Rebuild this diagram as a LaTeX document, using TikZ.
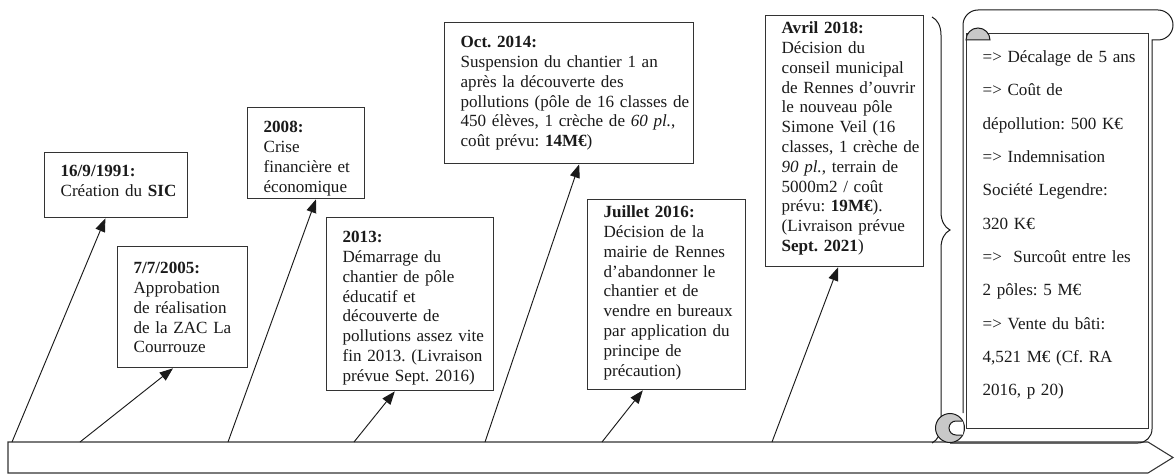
\documentclass[tikz,border=0pt]{standalone}
\usepackage{fontspec}
\setmainfont{Liberation Serif}
\usepackage{tikz}
\usetikzlibrary{arrows.meta,positioning,decorations.pathreplacing,calc}
\usepackage{xcolor}
\definecolor{ink}{HTML}{1A1A1A}
\definecolor{edge}{HTML}{333333}
\definecolor{roll}{HTML}{C8C8C8}
\newcommand\evfont{\fontsize{12.8pt}{14.85pt}\selectfont}
\newcommand\scrollfont{\fontsize{12.8pt}{25pt}\selectfont}
\frenchspacing
\tikzset{
  evbox/.style={draw=edge,line width=1pt,fill=white,anchor=north west,align=left,font=\evfont,text=ink,inner xsep=1.5pt,inner ysep=3pt,execute at begin node={\leftskip=10.5pt}},
  note/.style={evbox,font=\scrollfont},
  timeline/.style={draw=edge,line width=0.8pt,fill=white},
  scrollline/.style={draw=ink,line width=0.75pt},
  flow/.style={-{Triangle[length=10pt,width=7.5pt]},line width=0.7pt,draw=ink},
  bracket/.style={draw=ink,line width=0.75pt,decorate,decoration={brace,amplitude=13.5pt}}
}
\begin{document}
\begin{tikzpicture}[x=0.75pt,y=0.75pt]
\fill[white] (0,0) rectangle (1175,-474);
\useasboundingbox (0,0) rectangle (1175,-474);

\draw[timeline] (8,-442) -- (1148,-442) -- (1173,-457.5) -- (1148,-473) -- (8,-473) -- cycle;
\foreach \n/\x in {1/12,2/80,3/228,4/354,5/485,6/602,7/772}
  \coordinate (t\n) at (\x,-442);

\node[evbox,text width=104.25pt,text height=15pt,text depth=27.75pt] (d1991) at (44,-152) {\textbf{16/9/1991:}\\Création du \textbf{SIC}};
\node[evbox,text width=94.5pt,text height=17.25pt,text depth=67.5pt] (d2005) at (117,-246) {\textbf{7/7/2005:}\\Approbation\\de réalisation\\de la ZAC La\\Courrouze};
\node[evbox,text width=84.75pt,text height=15.75pt,text depth=46.5pt] (d2008) at (247,-107) {\textbf{2008:}\\Crise\\financière et\\économique};
\node[evbox,text width=122.25pt,text height=15.75pt,text depth=108pt] (d2013) at (326,-217) {\textbf{2013:}\\Démarrage du\\chantier de pôle\\éducatif et\\découverte de\\pollutions assez vite\\fin 2013. (Livraison\\prévue Sept. 2016)};
\node[evbox,text width=183.75pt,text height=15.75pt,text depth=84pt] (d2014) at (444,-22) {\textbf{Oct. 2014:}\\Suspension du chantier 1 an\\après la découverte des\\pollutions (pôle de 16 classes de\\450 élèves, 1 crèche de \textit{60 pl.},\\coût prévu: \textbf{14M€})};
\node[evbox,text width=115.5pt,text height=10.5pt,text depth=126pt] (d2016) at (587,-199) {\textbf{Juillet 2016:}\\Décision de la\\mairie de Rennes\\d’abandonner le\\chantier et de\\vendre en bureaux\\par application du\\principe de\\précaution)};
\node[evbox,text width=115.5pt,text height=10.5pt,text depth=171.75pt] (d2018) at (765,-15) {\textbf{Avril 2018:}\\Décision du\\conseil municipal\\de Rennes d’ouvrir\\le nouveau pôle\\Simone Veil (16\\classes, 1 crèche de\\\textit{90 pl.}, terrain de\\5000m2 / coût\\prévu: \textbf{19M€}).\\(Livraison prévue\\\textbf{Sept. 2021})};

\coordinate (brtop) at (932,-17);
\coordinate (brbot) at (932,-443);
\draw[bracket] (brtop) -- (brbot);

\draw[scrollline] (963,-413) -- (963,-25) arc[start angle=180,end angle=90,radius=15] -- (1158,-10) arc[start angle=90,end angle=-90,radius=15] -- (1152,-40) -- (1152,-429) arc[start angle=0,end angle=-90,radius=14] -- (950,-443);
\filldraw[scrollline,fill=roll] (950,-428) circle[radius=14.5];
\draw[scrollline,fill=white] (963,-421) -- (956,-421) arc[start angle=90,end angle=270,radius=7] -- (963,-435);
\node[note,text width=133.5pt,text height=18.75pt,text depth=271.5pt] (bilan) at (966,-33) {=> Décalage de 5 ans\\=> Coût de\\dépollution: 500 K€\\=> Indemnisation\\Société Legendre:\\320 K€\\=>~ Surcoût entre les\\2 pôles: 5 M€\\=> Vente du bâti:\\4,521 M€ (Cf. RA\\2016, p 20)};
\filldraw[scrollline,fill=roll] (966,-40) arc[start angle=180,end angle=0,radius=12] -- cycle;

\draw[flow] (t1) -- (d1991.252);
\draw[flow] (t2) -- (d2005.261);
\draw[flow] (t3) -- (d2008.282);
\draw[flow] (t4) -- (d2013.260);
\draw[flow] (t5) -- (d2014.278);
\draw[flow] (t6) -- (d2016.256);
\draw[flow] (t7) -- (d2018.267);
\end{tikzpicture}
\end{document}
